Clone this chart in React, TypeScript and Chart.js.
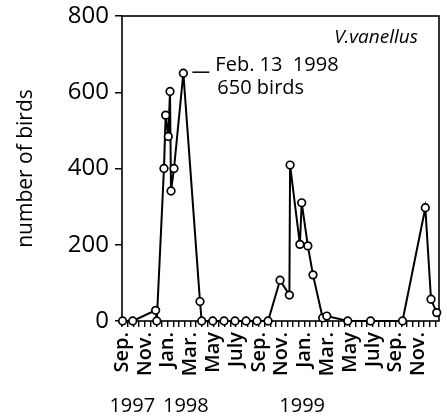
import React, { useEffect, useRef } from 'react';
import { Chart, registerables } from 'chart.js';

Chart.register(...registerables);

// months since Sep 1997 (0 = start of Sep 1997)
const surveyMonths = [
  0.05, 0.94, 2.95, 3.05, 3.68, 3.83, 4.06, 4.21, 4.3, 4.56, 5.38, 6.84, 6.99,
  7.96, 8.95, 9.91, 10.88, 11.84, 12.81, 13.86, 14.68, 14.74, 15.6, 15.76,
  16.3, 16.75, 17.6, 17.96, 19.8, 21.8, 24.6, 26.6, 27.1, 27.6,
];
const birdCounts = [
  0, 0, 28, 0, 400, 540, 484, 602, 341, 400, 650, 51, 0,
  0, 0, 0, 0, 0, 0, 107, 68, 409, 201, 310,
  197, 121, 8, 13, 0, 0, 0, 297, 57, 22,
];
const monthTickLabels = [
  'Sep.', 'Nov.', 'Jan.', 'Mar.', 'May', 'July', 'Sep.',
  'Nov.', 'Jan.', 'Mar.', 'May', 'July', 'Sep.', 'Nov.',
];
const yTickValues = [0, 200, 400, 600, 800];
const yearLabels = ['1997', '1998', '1999'];
const annotationLines = ['Feb. 13  1998', '650 birds'];
const peakIndex = 10;
const speciesName = 'V.vanellus';
const yTitle = 'number of birds';

const FONT = "'Open Sans', 'DejaVu Sans', sans-serif";

const decorPlugin = {
  id: 'decor',
  beforeDatasetsDraw(chart: any) {
    const { ctx, chartArea: a } = chart;
    ctx.save();
    ctx.strokeStyle = '#000';
    ctx.lineWidth = 1.6;
    ctx.strokeRect(a.left, a.top, a.right - a.left, a.bottom - a.top);
    ctx.restore();
  },
  afterDraw(chart: any) {
    const { ctx, chartArea: a, scales } = chart;
    const x = scales.x;
    const y = scales.y;
    ctx.save();
    ctx.fillStyle = '#000';
    ctx.strokeStyle = '#000';
    // annotation
    const px = x.getPixelForValue(surveyMonths[peakIndex]);
    const py = y.getPixelForValue(birdCounts[peakIndex]);
    ctx.lineWidth = 1.5;
    ctx.beginPath();
    ctx.moveTo(px + 9, py - 1);
    ctx.lineTo(px + 26, py - 1);
    ctx.stroke();
    ctx.font = `20px ${FONT}`;
    ctx.textAlign = 'left';
    ctx.textBaseline = 'alphabetic';
    ctx.fillText(annotationLines[0], px + 32, py - 2);
    ctx.fillText(annotationLines[1], px + 34, py + 21);
    // species name
    ctx.font = `italic 19px ${FONT}`;
    ctx.textAlign = 'right';
    ctx.fillText(speciesName, a.right - 21, a.top + 27);
    // year labels
    ctx.font = `20px ${FONT}`;
    ctx.textAlign = 'center';
    const yearPos = [0.9, 5.6, 15.8];
    yearLabels.forEach((t, i) => {
      ctx.fillText(t, x.getPixelForValue(yearPos[i]), 412);
    });
    ctx.restore();
  },
};

export default function App() {
  const ref = useRef<HTMLCanvasElement | null>(null);
  useEffect(() => {
    if (!ref.current) return;
    const chart = new Chart(ref.current, {
      type: 'line',
      data: {
        datasets: [
          {
            data: surveyMonths.map((m, i) => ({ x: m, y: birdCounts[i] })),
            borderColor: '#000',
            borderWidth: 2,
            tension: 0,
            pointRadius: 3.8,
            pointBorderWidth: 1.7,
            pointBackgroundColor: '#fff',
            pointBorderColor: '#000',
            clip: false as any,
          },
        ],
      },
      plugins: [decorPlugin],
      options: {
        responsive: false,
        animation: false,
        devicePixelRatio: 1,
        layout: { padding: { top: 16, right: 8, left: 0, bottom: 0 } },
        plugins: { legend: { display: false }, tooltip: { enabled: false } },
        scales: {
          x: {
            type: 'linear',
            min: 0,
            max: 27.8,
            afterFit: (s: any) => {
              s.height = 97;
              s.paddingLeft = 0;
              s.paddingRight = 0;
              s.paddingTop = 0;
              s.paddingBottom = 0;
            },
            afterBuildTicks: (s: any) => {
              const t = [];
              for (let v = 0; v <= 27.5; v += 0.5) t.push({ value: v });
              s.ticks = t;
            },
            border: { display: false },
            grid: {
              display: true,
              drawOnChartArea: false,
              drawTicks: true,
              tickLength: 6,
              color: '#000',
              lineWidth: 1.4,
            },
            ticks: {
              autoSkip: false,
              minRotation: 90,
              maxRotation: 90,
              padding: 5,
              color: '#000',
              font: { size: 20, family: FONT, weight: '600' },
              callback: (v: any) => {
                const m = Number(v);
                if (Number.isInteger(m) && m % 2 === 0) return monthTickLabels[m / 2] ?? '';
                return '';
              },
            },
          },
          y: {
            min: 0,
            max: 800,
            afterFit: (s: any) => {
              s.width = 122;
              s.paddingLeft = 0;
              s.paddingRight = 0;
              s.paddingTop = 0;
              s.paddingBottom = 0;
            },
            afterBuildTicks: (s: any) => {
              s.ticks = yTickValues.map((v) => ({ value: v }));
            },
            border: { display: false },
            grid: {
              display: true,
              drawOnChartArea: false,
              drawTicks: true,
              tickLength: 7,
              color: '#000',
              lineWidth: 1.5,
            },
            ticks: {
              padding: 6,
              color: '#000',
              font: { size: 24, family: FONT },
            },
            title: {
              display: true,
              text: yTitle,
              color: '#000',
              font: { size: 21, family: FONT },
              padding: { top: 13, bottom: 0 },
            },
          },
        },
      },
    } as any);
    return () => chart.destroy();
  }, []);
  return (
    <div style={{ position: 'absolute', left: 0, top: 0, width: 447, height: 418, background: '#fff' }}>
      <canvas ref={ref} width={447} height={418} />
    </div>
  );
}
